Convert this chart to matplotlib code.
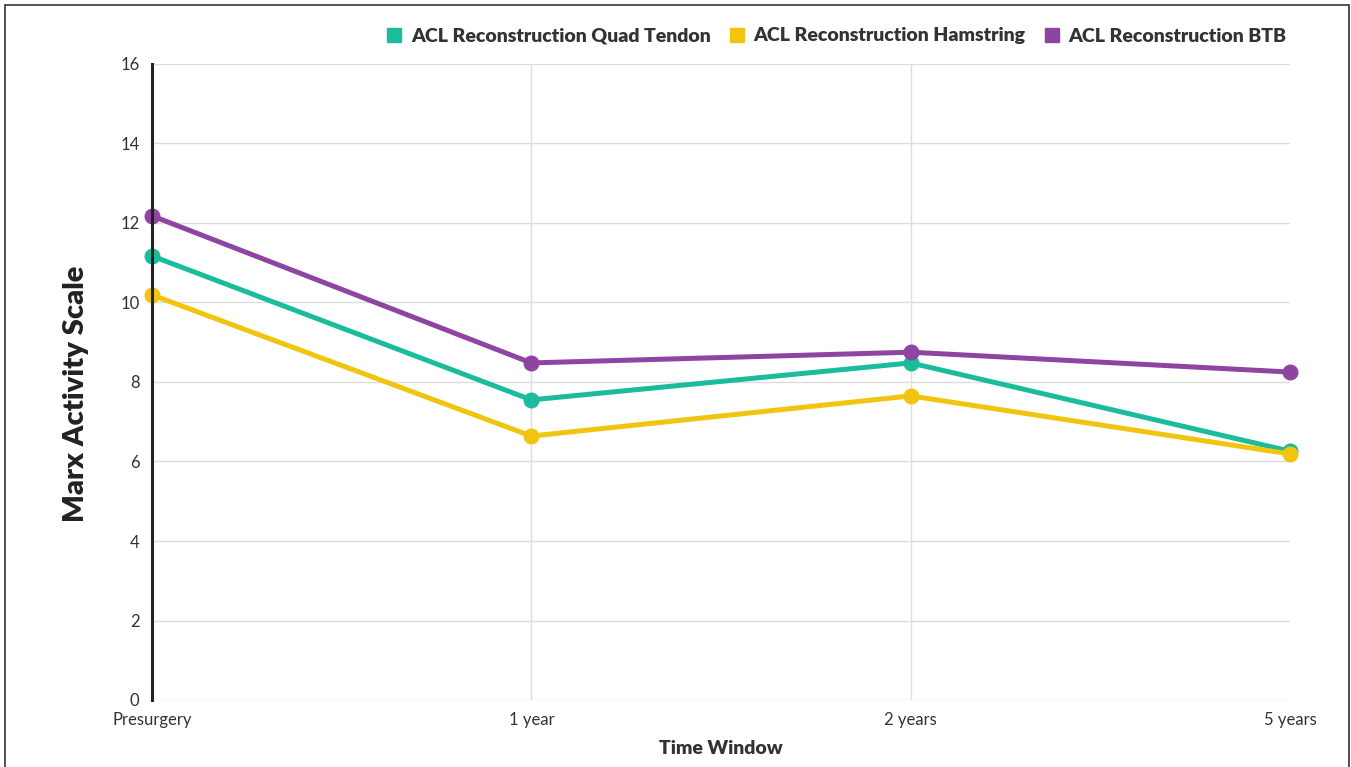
import matplotlib
matplotlib.use("Agg")
import matplotlib.pyplot as plt
from matplotlib.lines import Line2D
from matplotlib.patches import Rectangle

plt.rcParams['font.family'] = ['Lato', 'DejaVu Sans']

categories = ["Presurgery", "1 year", "2 years", "5 years"]
series_names = ["ACL Reconstruction Quad Tendon", "ACL Reconstruction Hamstring", "ACL Reconstruction BTB"]
quad_tendon = [11.17, 7.55, 8.48, 6.26]
hamstring = [10.19, 6.64, 7.65, 6.19]
btb = [12.18, 8.48, 8.75, 8.25]
yticks = [0, 2, 4, 6, 8, 10, 12, 14, 16]

colors = ["#1ABC9C", "#F1C40F", "#8E44A0"]
values = [quad_tendon, hamstring, btb]

W, H = 1351, 767
fig = plt.figure(figsize=(W / 100, H / 100), dpi=100)
ax = fig.add_axes([152 / W, 1 - 700 / H, (1290 - 152) / W, (700 - 64) / H])

x = list(range(len(categories)))
for name, vals, c in zip(series_names, values, colors):
    ax.plot(x, vals, color=c, lw=3.6, marker='o', markersize=10.5, clip_on=False,
            solid_capstyle='round', zorder=3, label=name)

ax.set_xlim(0, len(categories) - 1)
ax.set_ylim(0, 16)
ax.set_yticks(yticks)
ax.set_xticks(x)
ax.set_xticklabels(categories)
ax.grid(axis='y', color='#dddddd', lw=1, zorder=0)
for xv in x[1:-1]:
    ax.axvline(xv, color='#dddddd', lw=1, zorder=0)
for s in ['top', 'right', 'bottom']:
    ax.spines[s].set_visible(False)
ax.spines['left'].set_color('#222222')
ax.spines['left'].set_linewidth(2.2)
ax.spines['left'].set_zorder(4)
ax.tick_params(axis='both', length=0, labelsize=12, labelcolor='#333333')
ax.tick_params(axis='y', pad=9)
ax.tick_params(axis='x', pad=9)

fig.text(76 / W, 1 - 394 / H, "Marx Activity Scale", rotation=90, ha='center', va='center',
         fontsize=21, fontweight='heavy', color='#222222')
fig.text(721 / W, 1 - 749 / H, "Time Window", ha='center', va='center',
         fontsize=14, fontweight='heavy', color='#333333')

handles = [Line2D([], [], color=c, marker='s', linestyle='None', markersize=10) for c in colors]
leg = fig.legend(handles, series_names, loc='center right', bbox_to_anchor=(1294 / W, 1 - 36 / H),
                 ncol=3, frameon=False, fontsize=14, handletextpad=0.45, columnspacing=0.95,
                 handlelength=0.8, borderaxespad=0)
for t in leg.get_texts():
    t.set_fontweight('heavy')
    t.set_color('#333333')

fig.patches.append(Rectangle((5 / W, -0.1), (1349 - 5) / W, 1.1 - 5 / H, transform=fig.transFigure,
                             fill=False, edgecolor='#333333', lw=1.2))

fig.savefig("out.png", dpi=100)
